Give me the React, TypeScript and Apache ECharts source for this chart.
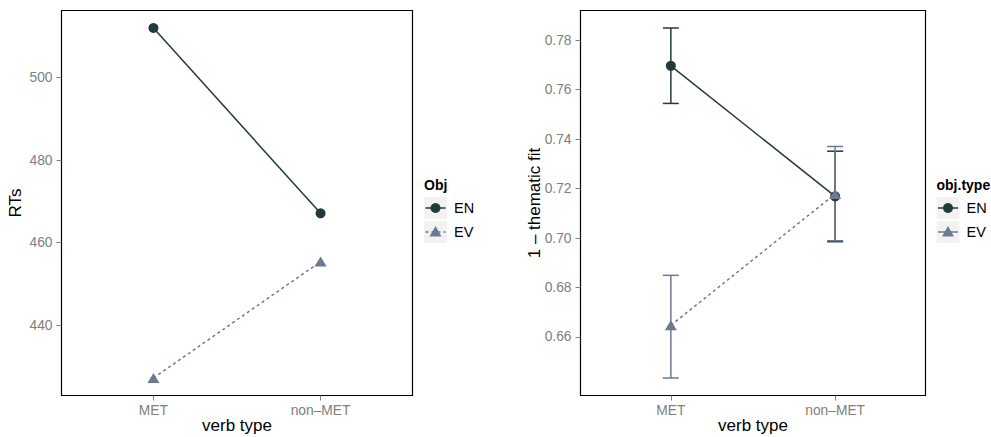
import React, { useEffect, useRef } from "react";
import * as echarts from "echarts";

const categories = ["MET", "non–MET"];
const groups = ["EN", "EV"];
const rtEN = [512.0, 467.1];
const rtEV = [427.2, 455.4];
const fitEN = [0.7696, 0.7168];
const fitEV = [0.6647, 0.7178];
const fitENLow = [0.7544, 0.6985];
const fitENHigh = [0.7849, 0.7351];
const fitEVLow = [0.6434, 0.6989];
const fitEVHigh = [0.6849, 0.737];
const rtTicks = [440, 460, 480, 500];
const fitTicks = [0.66, 0.68, 0.7, 0.72, 0.74, 0.76, 0.78];

const EN_COLOR = "#223a3c";
const EV_COLOR = "#6b7a8e";
const FONT = "Liberation Sans";
const GREY = "#808080";

function expandRange(vals: number[]) {
  const lo = Math.min(...vals);
  const hi = Math.max(...vals);
  const pad = (hi - lo) * 0.05;
  return [lo - pad, hi + pad];
}

function legendGraphic(x: number, title: string, evDashed: boolean) {
  const cx = x + 11.5;
  const rows = [197, 221];
  const children: any[] = [
    {
      type: "text",
      x: x,
      y: 185,
      style: {
        text: title,
        fontFamily: FONT,
        fontSize: 14,
        fontWeight: "bold",
        fill: "#000",
        verticalAlign: "middle",
        align: "left",
      },
    },
  ];
  rows.forEach((ry, i) => {
    const cy = ry + 11;
    const color = i === 0 ? EN_COLOR : EV_COLOR;
    children.push({
      type: "rect",
      shape: { x: x, y: ry, width: 23, height: 22 },
      style: { fill: "#f2f2f2" },
    });
    children.push({
      type: "line",
      shape: { x1: x + 1.5, y1: cy, x2: x + 21.5, y2: cy },
      style: {
        stroke: color,
        lineWidth: 1.5,
        lineDash: i === 1 && evDashed ? [3, 3] : null,
      },
    });
    if (i === 0) {
      children.push({
        type: "circle",
        shape: { cx: cx, cy: cy, r: 5 },
        style: { fill: color },
      });
    } else {
      children.push({
        type: "polygon",
        shape: {
          points: [
            [cx, cy - 6],
            [cx + 6, cy + 4.5],
            [cx - 6, cy + 4.5],
          ],
        },
        style: { fill: color },
      });
    }
    children.push({
      type: "text",
      x: x + 30,
      y: cy,
      style: {
        text: groups[i],
        fontFamily: FONT,
        fontSize: 14.5,
        fill: "#000",
        verticalAlign: "middle",
        align: "left",
      },
    });
  });
  return { type: "group", children };
}

function errorBarSeries(low: number[], high: number[], color: string) {
  return {
    type: "custom",
    xAxisIndex: 1,
    yAxisIndex: 1,
    z: 1,
    data: low.map((v, i) => [i + 1, v, high[i]]),
    encode: { x: 0, y: [1, 2] },
    renderItem: (params: any, api: any) => {
      const x = api.value(0);
      const pLo = api.coord([x, api.value(1)]);
      const pHi = api.coord([x, api.value(2)]);
      const hw = 8;
      const style = { stroke: color, lineWidth: 1.5 };
      return {
        type: "group",
        children: [
          { type: "line", shape: { x1: pLo[0], y1: pLo[1], x2: pHi[0], y2: pHi[1] }, style },
          { type: "line", shape: { x1: pLo[0] - hw, y1: pLo[1], x2: pLo[0] + hw, y2: pLo[1] }, style },
          { type: "line", shape: { x1: pHi[0] - hw, y1: pHi[1], x2: pHi[0] + hw, y2: pHi[1] }, style },
        ],
      };
    },
  };
}

function xAxisDef(gridIndex: number) {
  return {
    type: "value",
    gridIndex,
    min: 0.45,
    max: 2.55,
    axisLine: { show: false, onZero: false },
    splitLine: { show: false },
    axisTick: {
      show: true,
      customValues: [1, 2],
      length: 5,
      lineStyle: { color: GREY, width: 1 },
    },
    axisLabel: {
      customValues: [1, 2],
      formatter: (v: number) => categories[Math.round(v) - 1],
      color: GREY,
      fontFamily: FONT,
      fontSize: 13.8,
      margin: 8,
    },
    name: "verb type",
    nameLocation: "middle",
    nameGap: 21,
    nameMoveOverlap: false,
    nameTextStyle: { color: "#000", fontFamily: FONT, fontSize: 17 },
  };
}

function yAxisDef(gridIndex: number, range: number[], ticks: number[], name: string, fmt: (v: number) => string) {
  return {
    type: "value",
    gridIndex,
    min: range[0],
    max: range[1],
    axisLine: { show: false, onZero: false },
    splitLine: { show: false },
    axisTick: {
      show: true,
      customValues: ticks,
      length: 5,
      lineStyle: { color: GREY, width: 1 },
    },
    axisLabel: {
      customValues: ticks,
      formatter: fmt,
      color: GREY,
      fontFamily: FONT,
      fontSize: 13.8,
      margin: 9,
    },
    name,
    nameLocation: "middle",
    nameGap: 38,
    nameMoveOverlap: false,
    nameRotate: 90,
    nameTextStyle: { color: "#000", fontFamily: FONT, fontSize: 17 },
  };
}

export default function App() {
  const ref = useRef<HTMLDivElement>(null);
  useEffect(() => {
    if (!ref.current) return;
    const chart = echarts.init(ref.current, null, { renderer: "svg" });
    const rtRange = expandRange([...rtEN, ...rtEV]);
    const fitRange = expandRange([...fitENLow, ...fitENHigh, ...fitEVLow, ...fitEVHigh, ...fitEN, ...fitEV]);
    const gridBase = {
      top: 10.5,
      height: 385,
      show: true,
      borderColor: "#000",
      borderWidth: 1.2,
      backgroundColor: "transparent",
      containLabel: false,
      outerBoundsMode: "none",
    };
    chart.setOption({
      animation: false,
      backgroundColor: "#ffffff",
      textStyle: { fontFamily: FONT },
      grid: [
        { ...gridBase, left: 61.5, width: 351 },
        { ...gridBase, left: 580.5, width: 345 },
      ],
      xAxis: [xAxisDef(0), xAxisDef(1)],
      yAxis: [
        yAxisDef(0, rtRange, rtTicks, "RTs", (v: number) => String(v)),
        yAxisDef(1, fitRange, fitTicks, "1 – thematic fit", (v: number) => v.toFixed(2)),
      ],
      series: [
        {
          type: "line",
          name: "EN",
          xAxisIndex: 0,
          yAxisIndex: 0,
          data: rtEN.map((v, i) => [i + 1, v]),
          symbol: "circle",
          symbolSize: 10,
          itemStyle: { color: EN_COLOR },
          lineStyle: { color: EN_COLOR, width: 1.5 },
          z: 2,
        },
        {
          type: "line",
          name: "EV",
          xAxisIndex: 0,
          yAxisIndex: 0,
          data: rtEV.map((v, i) => [i + 1, v]),
          symbol: "triangle",
          symbolSize: [12, 10],
          itemStyle: { color: EV_COLOR },
          lineStyle: { color: EV_COLOR, width: 1.5, type: [3, 3] },
          z: 3,
        },
        errorBarSeries(fitENLow, fitENHigh, EN_COLOR),
        errorBarSeries(fitEVLow, fitEVHigh, EV_COLOR),
        {
          type: "line",
          name: "EN",
          xAxisIndex: 1,
          yAxisIndex: 1,
          data: fitEN.map((v, i) => [i + 1, v]),
          symbol: "circle",
          symbolSize: 10,
          itemStyle: { color: EN_COLOR },
          lineStyle: { color: EN_COLOR, width: 1.5 },
          z: 2,
        },
        {
          type: "line",
          name: "EV",
          xAxisIndex: 1,
          yAxisIndex: 1,
          data: fitEV.map((v, i) => [i + 1, v]),
          symbol: "triangle",
          symbolSize: [12, 10],
          itemStyle: { color: EV_COLOR },
          lineStyle: { color: EV_COLOR, width: 1.5, type: [3, 3] },
          z: 3,
        },
      ],
      graphic: [legendGraphic(424, "Obj", true), legendGraphic(936.5, "obj.type", false)],
    });
    return () => chart.dispose();
  }, []);
  return (
    <div
      ref={ref}
      style={{ position: "fixed", left: 0, top: 0, width: 991, height: 437, background: "#fff" }}
    />
  );
}
